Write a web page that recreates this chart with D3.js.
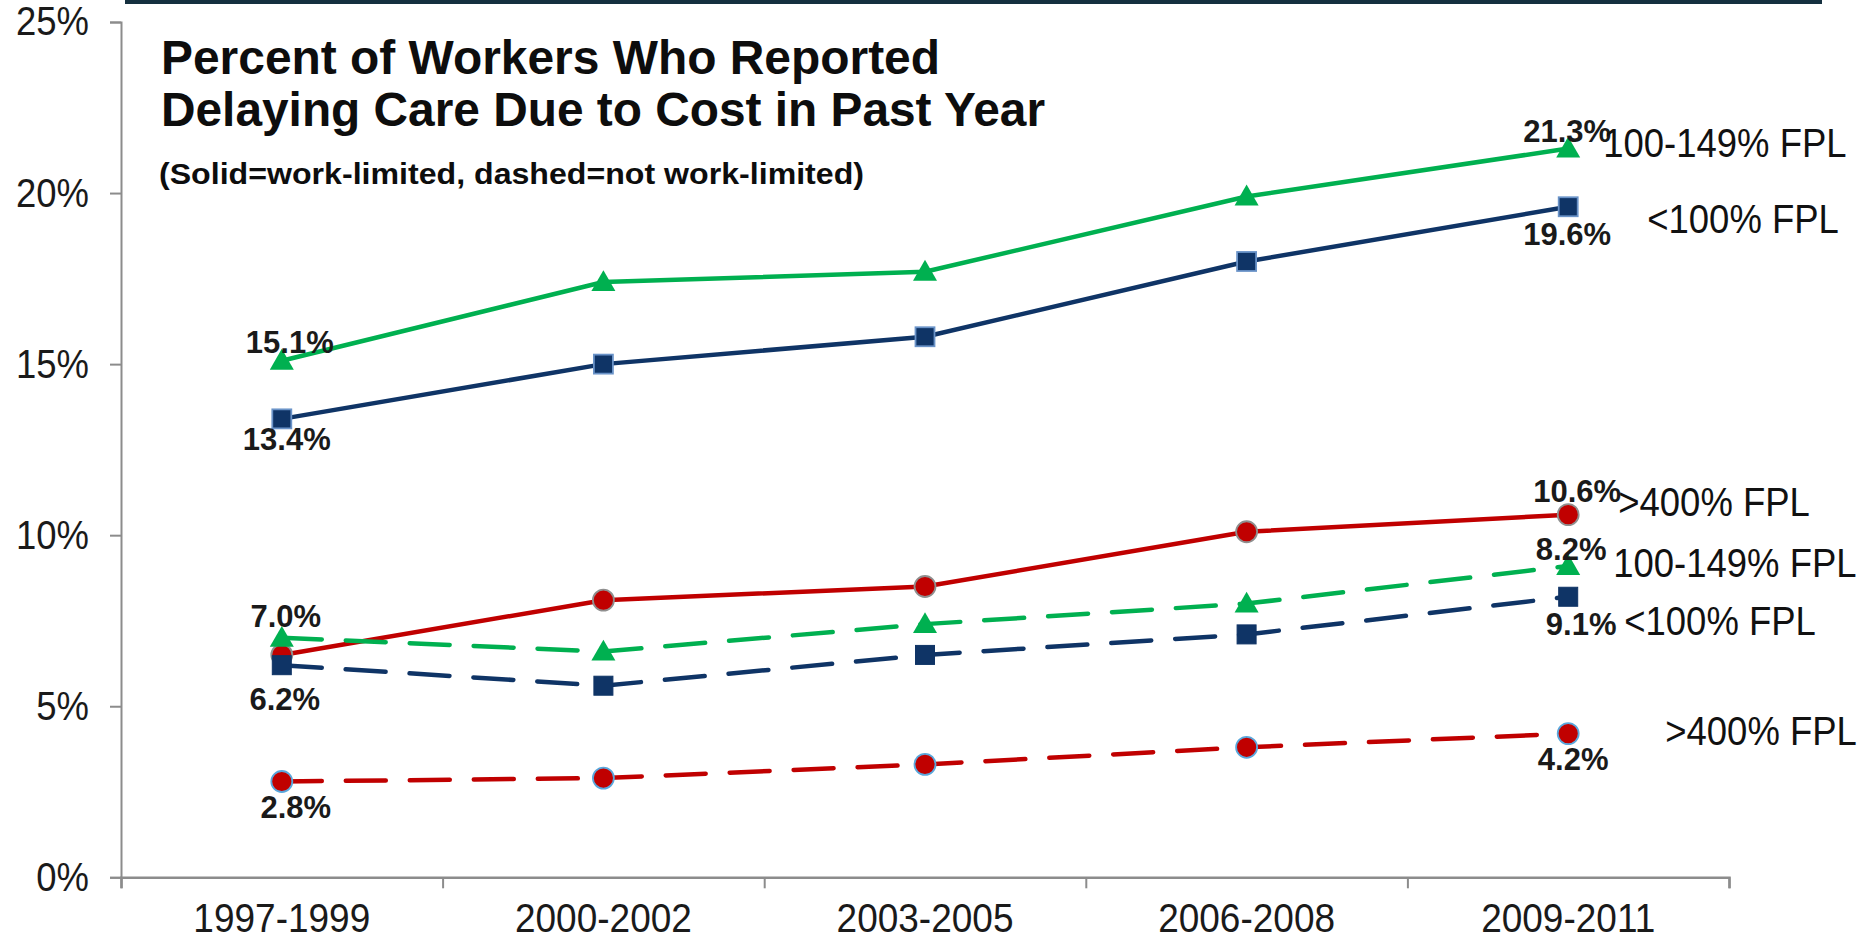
<!DOCTYPE html>
<html>
<head>
<meta charset="utf-8">
<script src="https://cdn.jsdelivr.net/npm/d3@7"></script>
<style>
  html, body { margin: 0; padding: 0; background: #ffffff; }
  svg { display: block; font-family: "Liberation Sans", Arial, Helvetica, sans-serif; }
</style>
</head>
<body>
<script>
// ---- data ----
const categories = ["1997-1999", "2000-2002", "2003-2005", "2006-2008", "2009-2011"];
const yTickValues = [0, 5, 10, 15, 20, 25];

// work-limited (solid)
const below100Limited = [13.4, 15.0, 15.8, 18.0, 19.6];
const fpl100to149Limited = [15.1, 17.4, 17.7, 19.9, 21.3];
const above400Limited = [6.5, 8.1, 8.5, 10.1, 10.6];
// not work-limited (dashed)
const below100NotLimited = [6.2, 5.6, 6.5, 7.1, 8.2];
const fpl100to149NotLimited = [7.0, 6.6, 7.4, 8.0, 9.1];
const above400NotLimited = [2.8, 2.9, 3.3, 3.8, 4.2];

const seriesNames = ["<100% FPL", "100-149% FPL", ">400% FPL"];

const titleLines = ["Percent of Workers Who Reported", "Delaying Care Due to Cost in Past Year"];
const subtitle = "(Solid=work-limited, dashed=not work-limited)";

// ---- layout ----
const W = 1866, H = 940;
const plot = { left: 121, right: 1729, top: 22, bottom: 877.3 };
const COLORS = { green: "#00b050", blue: "#0f3466", red: "#c00000", axis: "#8c8c8c", text: "#1a1a1a" };
const REG_STRETCH = 1.11;

const svg = d3.select("body").append("svg").attr("width", W).attr("height", H);

// dark rule along the top edge
svg.append("rect").attr("x", 125).attr("y", 0).attr("width", 1697).attr("height", 4).attr("fill", "#15303f");

const y = d3.scaleLinear().domain([0, 25]).range([plot.bottom, plot.top]);
const x = d3.scaleBand().domain(categories).range([plot.left, plot.right]).padding(0);
const xBound = d3.scaleLinear().domain([0, categories.length]).range([plot.left, plot.right]);
const cx = i => x(categories[i]) + x.bandwidth() / 2;

// ---- axes ----
const yAxis = svg.append("g")
  .attr("transform", `translate(${plot.left},0)`)
  .call(d3.axisLeft(y).tickValues(yTickValues).tickSize(11).tickPadding(21).tickFormat(d => d + "%"));
yAxis.select(".domain").attr("stroke", COLORS.axis).attr("stroke-width", 2);
yAxis.selectAll(".tick line").attr("stroke", COLORS.axis).attr("stroke-width", 2);
yAxis.selectAll(".tick text")
  .attr("font-size", 36.5).attr("fill", COLORS.text)
  .attr("font-family", "'Liberation Sans', Arial, sans-serif")
  .attr("transform", `scale(1,${REG_STRETCH})`);

const xAxisTicks = svg.append("g")
  .attr("transform", `translate(0,${plot.bottom})`)
  .call(d3.axisBottom(xBound).tickValues(d3.range(0, categories.length + 1)).tickSize(11).tickFormat(""));
xAxisTicks.select(".domain").attr("stroke", COLORS.axis).attr("stroke-width", 2.5);
xAxisTicks.selectAll(".tick line").attr("stroke", COLORS.axis).attr("stroke-width", 2);

const xAxisLabels = svg.append("g")
  .attr("transform", `translate(0,${plot.bottom})`)
  .call(d3.axisBottom(x).tickSize(0).tickPadding(23));
xAxisLabels.select(".domain").remove();
xAxisLabels.selectAll(".tick text")
  .attr("font-size", 37).attr("fill", COLORS.text)
  .attr("font-family", "'Liberation Sans', Arial, sans-serif")
  .attr("transform", `scale(1,${REG_STRETCH})`);

// ---- title ----
const title = svg.append("g").attr("fill", "#0d0d0d").attr("font-weight", "bold");
title.append("text").attr("x", 161).attr("y", 74).attr("font-size", 48)
  .attr("textLength", 779).attr("lengthAdjust", "spacingAndGlyphs").text(titleLines[0]);
title.append("text").attr("x", 161).attr("y", 126).attr("font-size", 48)
  .attr("textLength", 884).attr("lengthAdjust", "spacingAndGlyphs").text(titleLines[1]);
title.append("text").attr("x", 159).attr("y", 184).attr("font-size", 30)
  .attr("textLength", 705).attr("lengthAdjust", "spacingAndGlyphs").text(subtitle);

// ---- series ----
// drawing order: work-limited first, then not work-limited on top
const series = [
  { values: above400Limited, name: seriesNames[2], color: COLORS.red, dashed: false, marker: "circle", outline: "#8f8f8f",
    nameAt: [50, 1], labels: [{ i: 4, dx: 9, dy: -13 }] },
  { values: fpl100to149Limited, name: seriesNames[1], color: COLORS.green, dashed: false, marker: "triangle", outline: null,
    nameAt: [35, 8], labels: [{ i: 0, dx: 8, dy: -8 }, { i: 4, dx: -1, dy: -7 }] },
  { values: below100Limited, name: seriesNames[0], color: COLORS.blue, dashed: false, marker: "square", outline: "#6a93c8",
    nameAt: [79, 26], labels: [{ i: 0, dx: 5, dy: 31 }, { i: 4, dx: -1, dy: 38 }] },
  { values: above400NotLimited, name: seriesNames[2], color: COLORS.red, dashed: true, marker: "circle", outline: "#5aa7dc",
    nameAt: [97, 11], labels: [{ i: 0, dx: 14, dy: 36 }, { i: 4, dx: 5, dy: 36 }] },
  { values: fpl100to149NotLimited, name: seriesNames[1], color: COLORS.green, dashed: true, marker: "triangle", outline: null,
    nameAt: [45, 11], labels: [{ i: 0, dx: 4, dy: -11 }, { i: 4, dx: 13, dy: 69 }] },
  { values: below100NotLimited, name: seriesNames[0], color: COLORS.blue, dashed: true, marker: "square", outline: null,
    nameAt: [56, 38], labels: [{ i: 0, dx: 3, dy: 45 }, { i: 4, dx: 3, dy: -37 }] }
];

const line = d3.line().x((d, i) => cx(i)).y(d => y(d));
const fmt = d3.format(".1f");

const seriesG = svg.append("g");
series.forEach(s => {
  const g = seriesG.append("g");
  g.append("path")
    .datum(s.values)
    .attr("d", line)
    .attr("fill", "none")
    .attr("stroke", s.color)
    .attr("stroke-width", 4.5)
    .attr("stroke-linecap", s.dashed ? "round" : "butt")
    .attr("stroke-linejoin", "round")
    .attr("stroke-dasharray", s.dashed ? "40,24" : null);

  const pts = g.selectAll(".pt").data(s.values).enter();
  if (s.marker === "circle") {
    pts.append("circle")
      .attr("cx", (d, i) => cx(i)).attr("cy", d => y(d)).attr("r", 10.5)
      .attr("fill", s.color)
      .attr("stroke", s.outline).attr("stroke-width", 1.8);
  } else if (s.marker === "square") {
    pts.append("rect")
      .attr("x", (d, i) => cx(i) - 9.5).attr("y", d => y(d) - 9.5)
      .attr("width", 19).attr("height", 19)
      .attr("fill", s.color)
      .attr("stroke", s.outline || s.color).attr("stroke-width", s.outline ? 1.8 : 1);
  } else {
    pts.append("path")
      .attr("d", d3.symbol(d3.symbolTriangle, 250))
      .attr("transform", (d, i) => `translate(${cx(i)},${y(d) + 2})`)
      .attr("fill", s.color);
  }
});

// value labels
const valueLabels = svg.append("g").attr("font-weight", "bold").attr("fill", COLORS.text)
  .attr("font-size", 31).attr("text-anchor", "middle");
series.forEach(s => {
  s.labels.forEach(l => {
    const v = s.values[l.i];
    valueLabels.append("text")
      .attr("x", cx(l.i) + l.dx)
      .attr("y", y(v) + l.dy)
      .text(fmt(v) + "%");
  });
});

// series names at the line ends
const nameLabels = svg.append("g").attr("fill", "#111111").attr("font-size", 36.5);
series.forEach(s => {
  const last = s.values.length - 1;
  const px = cx(last) + s.nameAt[0];
  const py = y(s.values[last]) + s.nameAt[1];
  nameLabels.append("text")
    .attr("transform", `translate(${px},${py}) scale(1,${REG_STRETCH})`)
    .text(s.name);
});
</script>
</body>
</html>
